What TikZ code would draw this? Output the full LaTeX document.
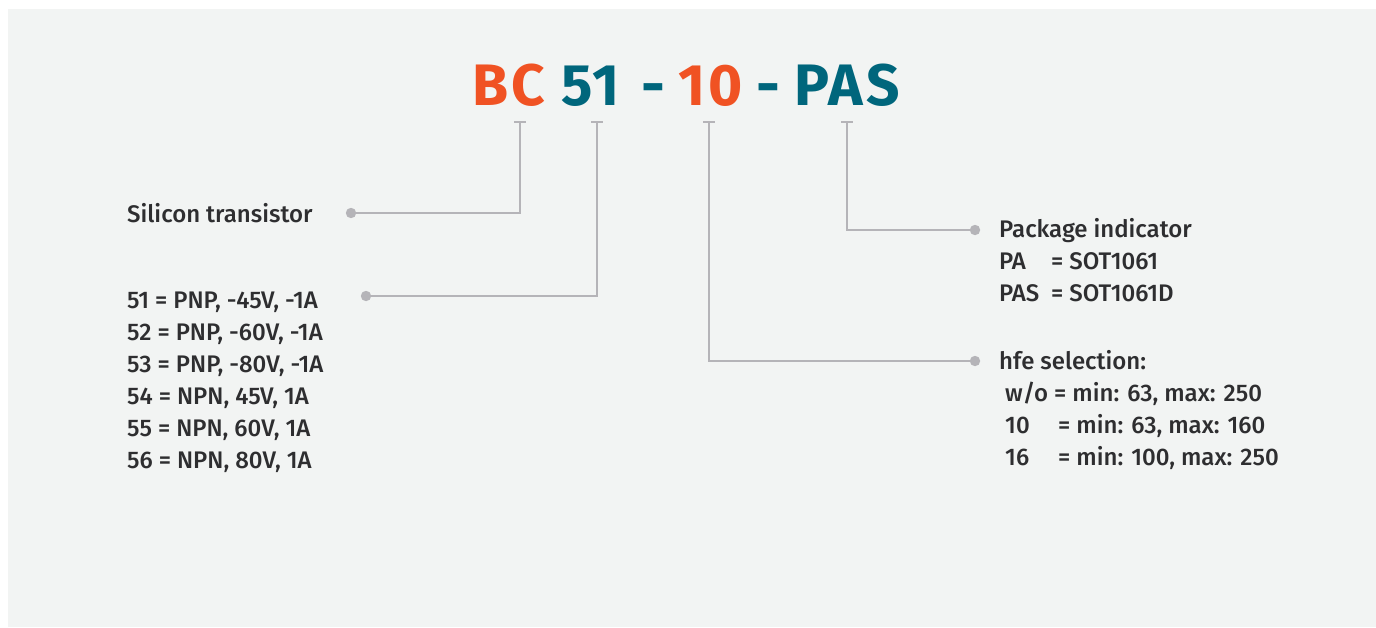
\documentclass[tikz,border=0pt]{standalone}
\usepackage{fontspec}
\setmainfont{Fira Sans}[UprightFont={* Medium},BoldFont={* Bold}]
\newfontfamily\ttlfont{Fira Sans Bold}[LetterSpace=5]
\usetikzlibrary{calc}
\definecolor{bgc}{HTML}{F2F4F3}
\definecolor{orng}{HTML}{F05223}
\definecolor{teal}{HTML}{00667C}
\definecolor{txt}{HTML}{2E2E30}
\definecolor{lnc}{HTML}{B5B4B8}
\tikzset{
  ttl/.style={font=\ttlfont\fontsize{58.5}{60}\selectfont, inner sep=0pt, anchor=base west},
  lbl/.style={font=\fontsize{24}{32}\selectfont, text=txt, inner sep=0pt, anchor=base west},
  conn/.style={draw=lnc, line width=2.5pt},
  dotc/.style={fill=lnc},
}
\begin{document}
\begin{tikzpicture}[x=1pt,y=-1pt]
\useasboundingbox (0,0) rectangle (1376,627);
\fill[bgc] (8,9) rectangle (1376,627);
% title
\node[ttl, text=orng] (bc) at (472,105) {BC};
\node[ttl, text=teal] (n51) at (561,105) {51};
\node[ttl, text=teal] (h1) at (641,105) {-};
\node[ttl, text=orng] (n10) at (678,105) {10};
\node[ttl, text=teal] (h2) at (756,105) {-};
\node[ttl, text=teal] (pas) at (794,105) {PAS};
% tick coordinates and dots
\coordinate (t1) at (520,122);
\coordinate (t2) at (597,122);
\coordinate (t3) at (709,122);
\coordinate (t4) at (847,122);
\coordinate (d1) at (351,213);
\coordinate (d2) at (366,296);
\coordinate (d3) at (975,361);
\coordinate (d4) at (975,230);
% labels
\node[lbl] (si) at (127,222) {Silicon transistor};
\foreach \t [count=\i] in {{51 = PNP, -45V, -1A},{52 = PNP, -60V, -1A},{53 = PNP, -80V, -1A},{54 = NPN, 45V, 1A},{55 = NPN, 60V, 1A},{56 = NPN, 80V, 1A}}
  \node[lbl] (L\i) at (127,{308+32*(\i-1)}) {\t};
\node[lbl] (pk) at (999,237) {Package indicator};
\node[lbl] (pa) at (999,269) {\makebox[52pt][l]{PA}= SOT1061};
\node[lbl] (pas2) at (999,301) {\makebox[52pt][l]{PAS}= SOT1061D};
\node[lbl] (hf) at (999,369) {hfe selection:};
\node[lbl] (h1l) at (1005,401) {\makebox[49pt][l]{w/o}= min: 63, max: 250};
\node[lbl] (h2l) at (1005,433) {\makebox[53pt][l]{10}= min: 63, max: 160};
\node[lbl] (h3l) at (1005,465) {\makebox[53pt][l]{16}= min: 100, max: 250};
% connectors
\foreach \c/\d in {t1/d1,t2/d2,t3/d3,t4/d4}{
  \draw[conn] ($(\c)+(-6,0)$) -- ($(\c)+(6,0)$);
  \draw[conn] (\c) |- (\d);
  \fill[dotc] (\d) circle (5.2);
}
\end{tikzpicture}
\end{document}
